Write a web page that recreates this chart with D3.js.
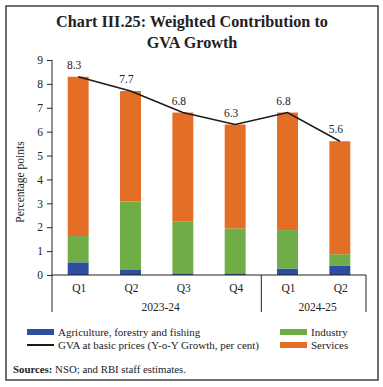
<!DOCTYPE html>
<html><head><meta charset="utf-8">
<script src="https://cdn.jsdelivr.net/npm/d3@7"></script>
<style>body{margin:0;background:#fff}svg{display:block}text{font-family:"Liberation Serif","DejaVu Serif",serif;fill:#222}</style>
</head><body>
<script>
const quarters = ["Q1","Q2","Q3","Q4","Q1","Q2"];
const years = ["2023-24","2024-25"];
const yearGroups = [0,0,0,0,1,1];
const agriculture = [0.53,0.21,0.07,0.07,0.27,0.38];
const industry = [1.10,2.87,2.18,1.88,1.61,0.49];
const services = [6.67,4.62,4.55,4.35,4.92,4.73];
const gva = [8.3,7.7,6.8,6.3,6.8,5.6];
const yTicks = [0,1,2,3,4,5,6,7,8,9];
const seriesNames = ["Agriculture, forestry and fishing","Industry","Services"];
const lineName = "GVA at basic prices (Y-o-Y Growth, per cent)";
const colors = {"Agriculture, forestry and fishing":"#2E4DA0","Industry":"#70AD47","Services":"#E56E27"};

const W=383,H=387;
const svg=d3.select("body").append("svg").attr("width",W).attr("height",H);
svg.append("rect").attr("x",6).attr("y",6).attr("width",372).attr("height",374).attr("fill","none").attr("stroke","#333").attr("stroke-width",1.4);

svg.append("text").attr("x",192).attr("y",27).attr("text-anchor","middle").attr("font-weight","bold").attr("font-size",16.2).text("Chart III.25: Weighted Contribution to");
svg.append("text").attr("x",192).attr("y",48).attr("text-anchor","middle").attr("font-weight","bold").attr("font-size",16.2).text("GVA Growth");

const x=d3.scaleBand().domain(d3.range(quarters.length)).range([52,366]).paddingInner(0.6).paddingOuter(0.3);
const y=d3.scaleLinear().domain([0,9]).range([275,60]);

const rows=quarters.map((q,i)=>({i,"Agriculture, forestry and fishing":agriculture[i],"Industry":industry[i],"Services":services[i]}));
const stack=d3.stack().keys(seriesNames)(rows);
const g=svg.append("g");
stack.forEach(s=>{
  g.selectAll(null).data(s).enter().append("rect")
   .attr("x",d=>x(d.data.i)).attr("width",x.bandwidth())
   .attr("y",d=>y(d[1])).attr("height",d=>y(d[0])-y(d[1]))
   .attr("fill",colors[s.key]);
});

const line=d3.line().x((d,i)=>x(i)+x.bandwidth()/2).y(d=>y(d));
svg.append("path").datum(gva).attr("d",line).attr("fill","none").attr("stroke","#1a1a1a").attr("stroke-width",1.5);

svg.selectAll(null).data(gva).enter().append("text")
  .attr("x",(d,i)=>x(i)+x.bandwidth()/2-4).attr("y",d=>y(d)-8)
  .attr("text-anchor","middle").attr("font-size",11.5).attr("fill","#333").text(d=>d.toFixed(1));

// y axis
const ya=svg.append("g").attr("transform","translate(52,0)").call(d3.axisLeft(y).tickValues(yTicks).tickSize(5).tickPadding(4).tickFormat(d3.format("d")));
ya.select(".domain").remove();
ya.selectAll("line").attr("stroke","#222");
ya.selectAll("text").attr("font-size",11.5).attr("font-family","Liberation Serif, serif").attr("fill","#333");
svg.append("line").attr("x1",52).attr("x2",52).attr("y1",60).attr("y2",312).attr("stroke","#222").attr("stroke-width",1);

// x axis
svg.append("line").attr("x1",52).attr("x2",366).attr("y1",275).attr("y2",275).attr("stroke","#222");
svg.selectAll(null).data(quarters).enter().append("text")
  .attr("x",(d,i)=>x(i)+x.bandwidth()/2+1).attr("y",292).attr("text-anchor","middle").attr("font-size",11.5).attr("fill","#333").text(d=>d);
// group separators
const sepX=[x(4)-(x.step()-x.bandwidth())/2, 366];
sepX.forEach(sx=>svg.append("line").attr("x1",sx).attr("x2",sx).attr("y1",275).attr("y2",312).attr("stroke","#222"));
years.forEach((yr,k)=>{
  const left=k===0?52:sepX[0], right=k===0?sepX[0]:366;
  svg.append("text").attr("x",(left+right)/2+4).attr("y",311).attr("text-anchor","middle").attr("font-size",11.5).attr("fill","#333").text(yr);
});

svg.append("text").attr("transform","translate(24,182) rotate(-90)").attr("text-anchor","middle").attr("font-size",11.5).attr("fill","#333").text("Percentage points");

// legend
const leg=[
  {name:seriesNames[0],type:"rect",x:27,y:332},
  {name:lineName,type:"line",x:27,y:345},
  {name:seriesNames[1],type:"rect",x:280,y:332},
  {name:seriesNames[2],type:"rect",x:280,y:345}
];
leg.forEach(l=>{
  if(l.type==="rect") svg.append("rect").attr("x",l.x).attr("y",l.y-3).attr("width",27).attr("height",6).attr("fill",colors[l.name]);
  else svg.append("line").attr("x1",l.x).attr("x2",l.x+27).attr("y1",l.y).attr("y2",l.y).attr("stroke","#1a1a1a").attr("stroke-width",2);
  svg.append("text").attr("x",l.x+31).attr("y",l.y+4).attr("font-size",11).attr("fill","#333").text(l.name);
});

const src=svg.append("text").attr("x",13).attr("y",373).attr("font-size",10.8);
src.append("tspan").attr("font-weight","bold").text("Sources:");
src.append("tspan").text(" NSO; and RBI staff estimates.");
</script>
</body></html>
